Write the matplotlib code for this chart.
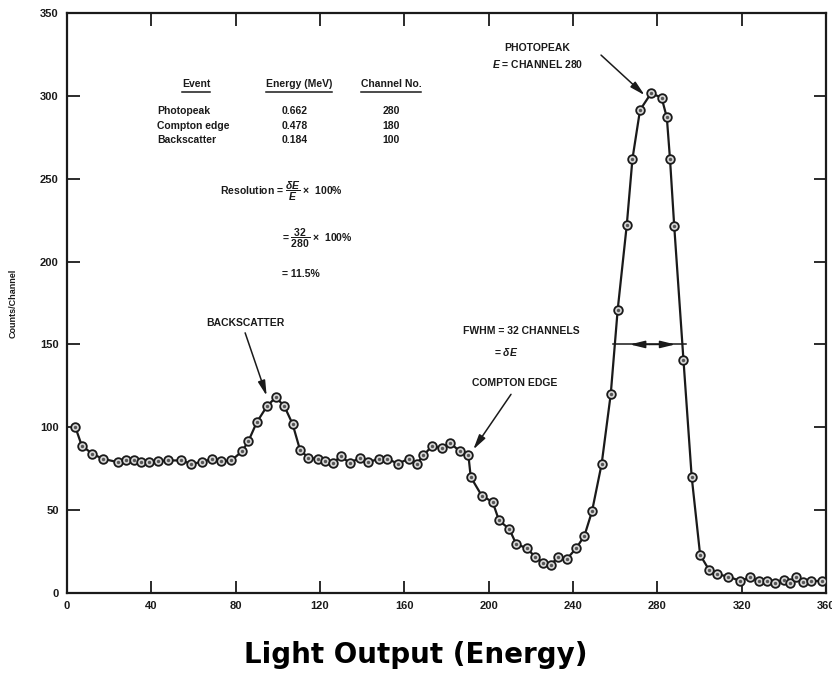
import matplotlib.pyplot as plt
from matplotlib.lines import Line2D

plt.rcParams['font.family'] = ['Liberation Sans', 'DejaVu Sans']
plt.rcParams['mathtext.fontset'] = 'custom'
plt.rcParams['mathtext.rm'] = 'Liberation Sans:bold'
plt.rcParams['mathtext.it'] = 'Liberation Sans:italic:bold'
plt.rcParams['mathtext.bf'] = 'Liberation Sans:bold'

# channel number and counts per channel
channel = [4, 7, 12, 17, 24, 28, 32, 35, 39, 43, 48, 54, 59, 64, 69, 73, 78,
           83, 86, 90, 95, 99, 103, 107, 110.5, 114.5, 119, 122.5, 126, 130,
           134, 139, 143, 148, 152, 157, 162, 166, 169, 173, 177.7, 181.7,
           186.4, 190.4, 191.5, 196.7, 201.9, 204.9, 209.8, 213, 218, 222,
           226, 229.6, 233, 237, 241.5, 245.4, 249, 253.6, 257.9, 261.2,
           265.5, 268.2, 271.8, 277, 282, 284.5, 286, 288, 292.4, 296.3,
           300.3, 304.5, 308.5, 313.7, 319.3, 324, 328, 332, 336, 340, 343,
           346, 349, 353, 358]
counts = [100, 89, 84, 81, 79, 80, 80, 79, 79, 79.5, 80, 80, 78, 79, 81, 79.5, 80,
          85.5, 91.5, 103, 113, 118, 113, 102, 86.5, 81.5, 81, 79.5, 78.5, 82.5,
          78.5, 81.5, 79, 81, 81, 78, 81, 78, 83, 88.5, 87.5, 90.5,
          85.5, 83, 70, 58.8, 54.9, 43.8, 38.6, 29.7, 27, 22,
          18, 17, 22, 20.4, 27, 34.5, 49.2, 78, 120, 171,
          222, 262, 291.5, 301.5, 299, 287, 262, 221.5, 140.5, 70,
          23, 14, 11.3, 9.9, 7.3, 9.5, 7.3, 7.3, 5.9, 7.9, 5.9,
          9.5, 6.8, 7.3, 7.3]

x_ticks = [0, 40, 80, 120, 160, 200, 240, 280, 320, 360]
y_ticks = [0, 50, 100, 150, 200, 250, 300, 350]

table_events = ['Photopeak', 'Compton edge', 'Backscatter']
table_energy = ['0.662', '0.478', '0.184']
table_channel = ['280', '180', '100']

fwhm_left = 259
fwhm_right = 293.5
fwhm_level = 150

ink = '#1a1a1a'

fig = plt.figure(figsize=(8.32, 6.84), dpi=100)
ax = fig.add_axes([0.0805, 0.133, 0.9123, 0.848])

ax.plot(channel, counts, color=ink, lw=1.6, zorder=2)
ax.plot(channel, counts, ls='none', marker='o', ms=6.2, mfc='#d6d6d6',
        mec=ink, mew=1.3, zorder=3)
ax.plot(channel, counts, ls='none', marker='o', ms=1.4, mfc='#555555',
        mec='#555555', zorder=4)

ax.set_xlim(0, 360)
ax.set_ylim(0, 350)
ax.set_xticks(x_ticks)
ax.set_yticks(y_ticks)
ax.tick_params(direction='in', length=9, width=1.3, top=True, right=True,
               labelsize=8, colors=ink, pad=6)
for lab in ax.get_xticklabels() + ax.get_yticklabels():
    lab.set_fontweight('bold')
for s in ax.spines.values():
    s.set_linewidth(1.6)
    s.set_color(ink)

ax.set_ylabel('Counts/Channel', fontsize=6.5, fontweight='bold', color=ink,
              labelpad=16)

fig.text(0.5, 0.042, 'Light Output (Energy)', ha='center', va='center',
         fontsize=20, fontweight='bold', family='DejaVu Sans', color='black')

# table of events
tk = dict(fontsize=7.5, fontweight='bold', color=ink, va='center')
headers = [ax.text(61.2, 307, 'Event', ha='center', **tk),
           ax.text(110, 307, 'Energy (MeV)', ha='center', **tk),
           ax.text(153.7, 307, 'Channel No.', ha='center', **tk)]
row_y = [290.7, 281.8, 273.2]
for i in range(3):
    ax.text(42.7, row_y[i], table_events[i], ha='left', **tk)
    ax.text(108, row_y[i], table_energy[i], ha='center', **tk)
    ax.text(153.7, row_y[i], table_channel[i], ha='center', **tk)

ax.text(72.6, 242.3, r'Resolution = $\dfrac{\delta E}{E}$ $\times$  100%', ha='left', **tk)
ax.text(102, 213.8, r'= $\dfrac{32}{280}$ $\times$  100%', ha='left', **tk)
ax.text(102, 192.6, '= 11.5%', ha='left', **tk)

# annotations
ak = dict(fontsize=7.5, fontweight='bold', color=ink, ha='center', va='center')
arrow = dict(arrowstyle='-|>,head_length=0.9,head_width=0.22', lw=1.1,
             color=ink, shrinkA=0, shrinkB=0)
ax.text(223, 328.9, 'PHOTOPEAK', **ak)
ax.text(223, 319.2, r'$E$ = CHANNEL 280', **ak)
ax.annotate('', xy=(274, 300.4), xytext=(253.3, 324.6), arrowprops=arrow)

ax.text(84.4, 162.9, 'BACKSCATTER', **ak)
ax.annotate('', xy=(94.7, 119), xytext=(84.5, 157), arrowprops=arrow)

ax.text(215.4, 158.1, 'FWHM = 32 CHANNELS', **ak)
ax.text(208.3, 145.4, r'= $\delta E$', **ak)

ax.text(212.5, 126.6, 'COMPTON EDGE', **ak)
ax.annotate('', xy=(192.7, 86.6), xytext=(210.6, 119.9), arrowprops=arrow)

# FWHM bar with arrow heads
ax.plot([fwhm_left, fwhm_right], [fwhm_level, fwhm_level], color=ink, lw=1.1)
fwhm_mid = (fwhm_left + fwhm_right) / 2
ax.annotate('', xy=(fwhm_left + 8, fwhm_level), xytext=(fwhm_mid, fwhm_level),
            arrowprops=arrow)
ax.annotate('', xy=(fwhm_right - 5, fwhm_level), xytext=(fwhm_mid, fwhm_level),
            arrowprops=arrow)

# underline table headers
fig.canvas.draw()
renderer = fig.canvas.get_renderer()
for h in headers:
    bb = h.get_window_extent(renderer).transformed(fig.transFigure.inverted())
    fig.add_artist(Line2D([bb.x0, bb.x1], [bb.y0 - 0.004, bb.y0 - 0.004],
                          color=ink, lw=1.1, transform=fig.transFigure))

fig.savefig('out.png', dpi=100)
